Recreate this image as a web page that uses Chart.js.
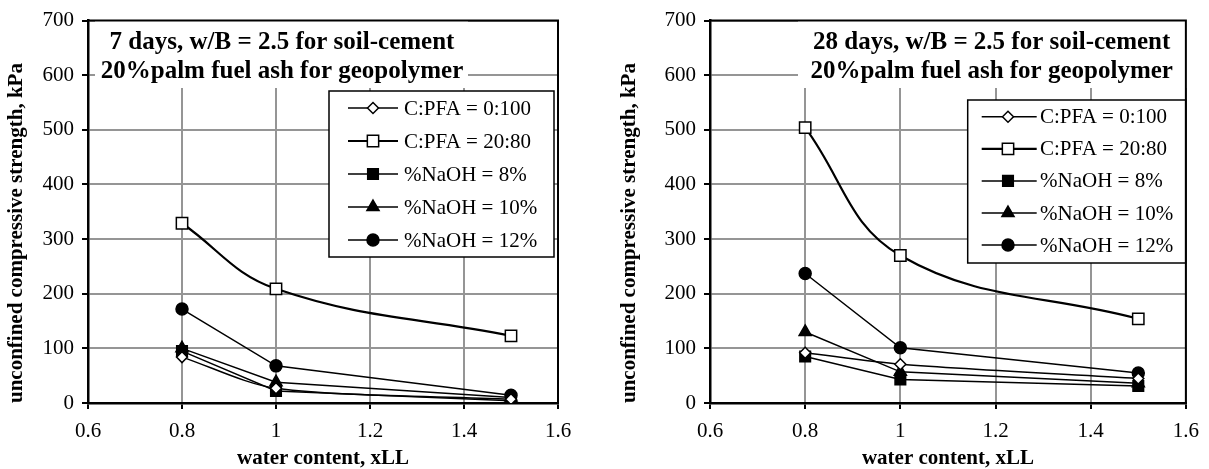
<!DOCTYPE html>
<html>
<head>
<meta charset="utf-8">
<script src="https://cdn.jsdelivr.net/npm/chart.js@4.4.0/dist/chart.umd.min.js"></script>
<style>
  body { margin: 0; background: #fff; }
  #wrap { position: relative; width: 1209px; height: 469px; background: #fff; }
  canvas { position: absolute; top: 0; }
</style>
</head>
<body>
<div id="wrap">
  <canvas id="chart7" width="600" height="469" style="left:0px"></canvas>
  <canvas id="chart28" width="596" height="469" style="left:613px"></canvas>
</div>
<script>
// x values shared by every series
const waterContent = [0.8, 1.0, 1.5];
const seriesLabels = ['C:PFA = 0:100', 'C:PFA = 20:80', '%NaOH = 8%', '%NaOH = 10%', '%NaOH = 12%'];

// 7 days
const day7Cpfa0100 = [84, 27, 7];
const day7Cpfa2080 = [329, 209, 123];
const day7NaOH8 = [95, 22, 4];
const day7NaOH10 = [100, 38, 10];
const day7NaOH12 = [172, 68, 14];

// 28 days
const day28Cpfa0100 = [92, 71, 45];
const day28Cpfa2080 = [504, 270, 154];
const day28NaOH8 = [85, 43, 31];
const day28NaOH10 = [130, 57, 36];
const day28NaOH12 = [237, 101, 55];

const xTicks = [0.6, 0.8, 1, 1.2, 1.4, 1.6];
const yTicks = [0, 100, 200, 300, 400, 500, 600, 700];

const title7 = ['7 days, w/B = 2.5 for soil-cement', '20%palm fuel ash for geopolymer'];
const title28 = ['28 days, w/B = 2.5 for soil-cement', '20%palm fuel ash for geopolymer'];

const xTitle = 'water content, xLL';
const yTitle = 'unconfined compressive strength, kPa';

const SERIF = "'Liberation Serif', 'Times New Roman', serif";
Chart.defaults.font.family = SERIF;
Chart.defaults.color = '#000';

// marker look for each series, same order as seriesLabels
const markerStyles = [
    { pointStyle: 'rectRot', radius: 5.5, fill: '#fff', line: 1.5, tension: 0.3 },
    { pointStyle: 'rect', radius: 8, fill: '#fff', line: 2.2, tension: 0.4 },
    { pointStyle: 'rect', radius: 7.5, fill: '#000', line: 1.5, tension: 0 },
    { pointStyle: 'triangle', radius: 7, fill: '#000', line: 1.5, tension: 0 },
    { pointStyle: 'circle', radius: 6, fill: '#000', line: 1.5, tension: 0 }
];

const makeDatasets = (seriesList) => seriesList.map((values, i) => {
    const m = markerStyles[i];
    return {
        label: seriesLabels[i],
        data: waterContent.map((x, j) => ({ x: x, y: values[j] })),
        borderColor: '#000',
        borderWidth: m.line,
        tension: m.tension,
        pointStyle: m.pointStyle,
        pointRadius: m.radius,
        pointBackgroundColor: m.fill,
        pointBorderColor: '#000',
        pointBorderWidth: 1.5,
        fill: false
    };
});

// draws the boxed title, the legend inside the plot and the frame
const overlayPlugin = {
    id: 'overlay',
    afterDraw(chart, args, opts) {
        const ctx = chart.ctx;
        const area = chart.chartArea;
        ctx.save();

        // title block
        const t = opts.title;
        ctx.fillStyle = '#fff';
        ctx.fillRect(t.bg[0], t.bg[1], t.bg[2], t.bg[3]);
        ctx.fillStyle = '#000';
        ctx.font = 'bold 25px ' + SERIF;
        ctx.textAlign = 'center';
        ctx.textBaseline = 'middle';
        t.lines.forEach((line, i) => ctx.fillText(line, t.cx, t.y[i]));

        // legend
        const lg = opts.legend;
        ctx.fillStyle = '#fff';
        ctx.fillRect(lg.x, lg.y, lg.w, lg.h);
        ctx.strokeStyle = '#000';
        ctx.lineWidth = 1.5;
        ctx.strokeRect(lg.x, lg.y, lg.w, lg.h);
        ctx.font = '21px ' + SERIF;
        ctx.textAlign = 'left';
        chart.data.datasets.forEach((ds, i) => {
            const y = lg.row0 + i * lg.rowGap;
            ctx.strokeStyle = '#000';
            ctx.lineWidth = ds.borderWidth;
            ctx.beginPath();
            ctx.moveTo(lg.lineX0, y);
            ctx.lineTo(lg.lineX1, y);
            ctx.stroke();
            ctx.fillStyle = ds.pointBackgroundColor;
            ctx.strokeStyle = '#000';
            ctx.lineWidth = 1.5;
            Chart.helpers.drawPoint(ctx, {
                pointStyle: ds.pointStyle,
                radius: ds.pointRadius,
                borderWidth: 1.5,
                rotation: 0
            }, lg.markX, y);
            ctx.fillStyle = '#000';
            ctx.fillText(ds.label, lg.textX, y + 1);
        });

        // top and right border, over the title box
        ctx.strokeStyle = '#000';
        ctx.lineWidth = 2;
        ctx.beginPath();
        ctx.moveTo(area.left, area.top);
        ctx.lineTo(area.right, area.top);
        ctx.lineTo(area.right, area.bottom);
        ctx.stroke();
        ctx.restore();
    }
};

const makeChart = (canvasId, seriesList, layout) => {
    return new Chart(document.getElementById(canvasId), {
        type: 'line',
        data: { datasets: makeDatasets(seriesList) },
        options: {
            responsive: false,
            animation: false,
            devicePixelRatio: 1,
            layout: { padding: { top: 16, right: layout.padRight, left: 0, bottom: 0 } },
            plugins: {
                legend: { display: false },
                tooltip: { enabled: false },
                overlay: { title: layout.title, legend: layout.legend }
            },
            scales: {
                x: {
                    type: 'linear',
                    min: 0.6,
                    max: 1.6,
                    afterBuildTicks: (scale) => { scale.ticks = xTicks.map(v => ({ value: v })); },
                    afterFit: (scale) => { scale.height = 66; },
                    ticks: {
                        font: { size: 21 },
                        padding: 10,
                        callback: (v) => String(Number(v.toFixed(1)))
                    },
                    grid: { color: '#959595', lineWidth: 2, tickLength: 6, tickColor: '#000', tickWidth: 2 },
                    border: { color: '#000', width: 2.5 },
                    title: {
                        display: true,
                        text: xTitle,
                        font: { size: 21, weight: 'bold', lineHeight: 1 },
                        padding: { top: 0, bottom: 0 }
                    }
                },
                y: {
                    min: 0,
                    max: 700,
                    afterBuildTicks: (scale) => { scale.ticks = yTicks.map(v => ({ value: v })); },
                    afterFit: (scale) => { scale.width = layout.yWidth; },
                    ticks: { font: { size: 21 }, padding: 8 },
                    grid: { color: '#959595', lineWidth: 2, tickLength: 6, tickColor: '#000', tickWidth: 2 },
                    border: { color: '#000', width: 2.5 },
                    title: {
                        display: true,
                        text: yTitle,
                        align: 'start',
                        font: { size: 21, weight: 'bold', lineHeight: 1 },
                        padding: { top: 6.5, bottom: 0 }
                    }
                }
            }
        },
        plugins: [overlayPlugin]
    });
};

makeChart('chart7', [day7Cpfa0100, day7Cpfa2080, day7NaOH8, day7NaOH10, day7NaOH12], {
    yWidth: 88,
    padRight: 42,
    title: { lines: title7, cx: 282, y: [43, 72], bg: [95, 17, 373, 71] },
    legend: { x: 329, y: 91, w: 225, h: 166, lineX0: 348, lineX1: 398, markX: 373, textX: 404, row0: 108, rowGap: 33 }
});

makeChart('chart28', [day28Cpfa0100, day28Cpfa2080, day28NaOH8, day28NaOH10, day28NaOH12], {
    yWidth: 97,
    padRight: 20,
    title: { lines: title28, cx: 378.7, y: [43, 72], bg: [185, 17, 390, 71] },
    legend: { x: 354.7, y: 100, w: 218, h: 163, lineX0: 368.7, lineX1: 423.7, markX: 395, textX: 427, row0: 116.7, rowGap: 32.1 }
});
</script>
</body>
</html>
